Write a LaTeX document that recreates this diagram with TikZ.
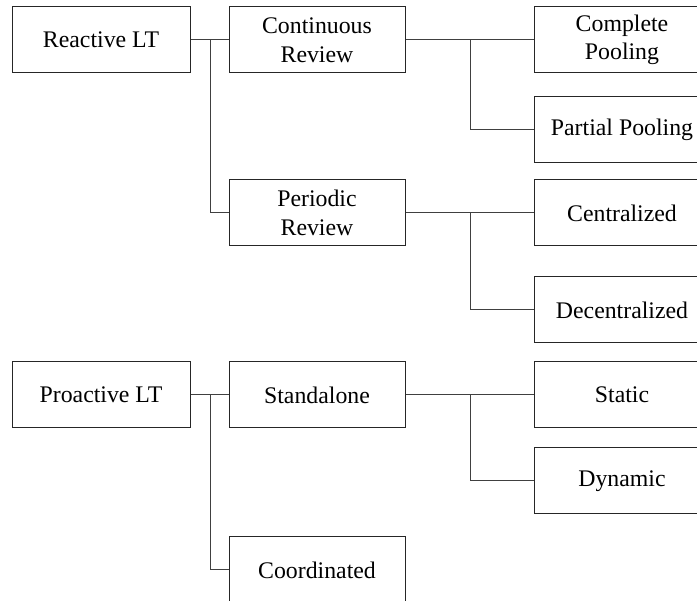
\documentclass[tikz,border=0pt]{standalone}
\usepackage{fontspec}
\setmainfont{Liberation Serif}

\tikzset{
  box/.style={draw=black!85, line width=1pt, fill=white, align=center,
    inner sep=0pt, minimum height=66pt,
    font=\fontsize{23.8}{28.5}\selectfont},
  midbox/.style={box, minimum width=176pt},
  rootbox/.style={box, minimum width=178pt},
  link/.style={draw=black!75, line width=1pt}
}

\begin{document}
\begin{tikzpicture}[x=1pt, y=-1pt]

  % Page frame, the right column and the last box run off the edge.
  \clip[use as bounding box] (0,0) rectangle (697,601);

  % ---- Reactive branch ----
  \node[rootbox] (reactive)   at (101, 40)   {Reactive LT};
  \node[midbox]  (continuous) at (317, 40)   {Continuous\\Review};
  \node[midbox]  (periodic)   at (317, 213)  {Periodic\\Review};
  \node[midbox]  (complete)   at (622, 40)   {Complete\\Pooling};
  \node[midbox]  (partial)    at (622, 130)  {Partial Pooling};
  \node[midbox]  (central)    at (622, 213)  {Centralized};
  \node[midbox]  (decentral)  at (622, 310)  {Decentralized};

  % ---- Proactive branch ----
  \node[rootbox] (proactive)  at (101, 395)  {Proactive LT};
  \node[midbox]  (standalone) at (317, 395)  {Standalone};
  \node[midbox]  (coord)      at (317, 570)  {Coordinated};
  \node[midbox]  (static)     at (622, 395)  {Static};
  \node[midbox]  (dynamic)    at (622, 481)  {Dynamic};

  % ---- Elbow connectors ----
  \draw[link] (reactive.east) -- (continuous.west);
  \draw[link] (reactive.east) -- ++(20,0) |- (periodic.west);
  \draw[link] (continuous.east) -- (complete.west);
  \draw[link] (continuous.east) -- ++(65,0) |- (partial.west);
  \draw[link] (periodic.east) -- (central.west);
  \draw[link] (periodic.east) -- ++(65,0) |- (decentral.west);

  \draw[link] (proactive.east) -- (standalone.west);
  \draw[link] (proactive.east) -- ++(20,0) |- (coord.west);
  \draw[link] (standalone.east) -- (static.west);
  \draw[link] (standalone.east) -- ++(65,0) |- (dynamic.west);

\end{tikzpicture}
\end{document}
